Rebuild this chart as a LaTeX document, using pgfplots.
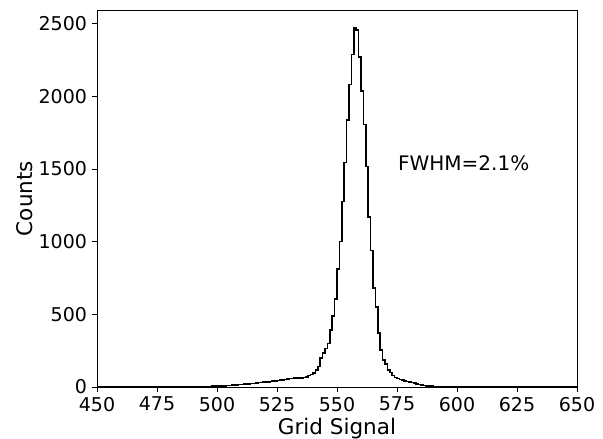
\documentclass[border=0pt]{standalone}
\usepackage{pgfplots}
\pgfplotsset{compat=1.18}
\usepackage{fontspec}
\setmainfont{DejaVu Sans}
\begin{document}
\begin{tikzpicture}
\begin{axis}[
  scale only axis,
  width=480pt, height=377pt,
  xmin=450, xmax=650, ymin=0, ymax=2593,
  xtick={450,475,...,650},
  ytick={0,500,...,2500},
  tick pos=left,
  tick align=outside,
  major tick length=5pt,
  axis line style={line width=0.8pt},
  every tick/.style={black, line width=0.8pt},
  /pgf/number format/assume math mode=true,
  /pgf/number format/set thousands separator={},
  tick label style={font=\fontsize{19}{22}\selectfont},
  xticklabel style={yshift=-1.5pt},
  yticklabel style={xshift=-1.5pt},
  label style={font=\fontsize{21.5}{25}\selectfont},
  xlabel={Grid Signal},
  ylabel={Counts},
  xlabel style={yshift=0.5pt},
  ylabel style={yshift=-1.5pt},
  clip=false,
]
\coordinate (sw) at (rel axis cs:0,0);
\coordinate (ne) at (rel axis cs:1,1);
\addplot[const plot, black, line width=1.6pt] table {
x y
450 0
470 0
480 1
486 1
490 1
491 2
492 2
493 2
494 3
495 3
496 4
497 4
498 5
499 5
500 6
501 7
502 7
503 8
504 9
505 10
506 12
507 13
508 15
509 17
510 18
511 19
512 20
513 22
514 24
515 25
516 27
517 30
518 31
519 33
520 34
521 35
522 38
523 40
524 42
525 44
526 48
527 48
528 52
529 53
530 58
531 58
532 62
533 60
534 62
535 63
536 66
537 70
538 78
539 85
540 95
541 116
542 140
543 200
544 232
545 265
546 300
547 390
548 490
549 605
550 810
551 1000
552 1276
553 1543
554 1836
555 2080
556 2286
557 2470
558 2455
559 2270
560 2035
561 1806
562 1516
563 1171
564 938
565 680
566 550
567 370
568 253
569 185
570 160
571 118
572 100
573 78
574 65
575 58
576 52
577 47
578 42
579 38
580 35
581 30
582 27
583 22
584 18
585 14
586 10
587 8
588 7
589 5
590 3
591 2
592 2
593 1
594 1
595 1
596 0
650 0
};
\node[anchor=base west, font=\fontsize{20}{24}\selectfont] at (axis cs:574,1490) {FWHM=2.1\%};
\end{axis}
\pgfresetboundingbox
\path ([xshift=-97pt,yshift=-52pt]sw) rectangle ([xshift=26pt,yshift=10pt]ne);
\end{tikzpicture}
\end{document}
